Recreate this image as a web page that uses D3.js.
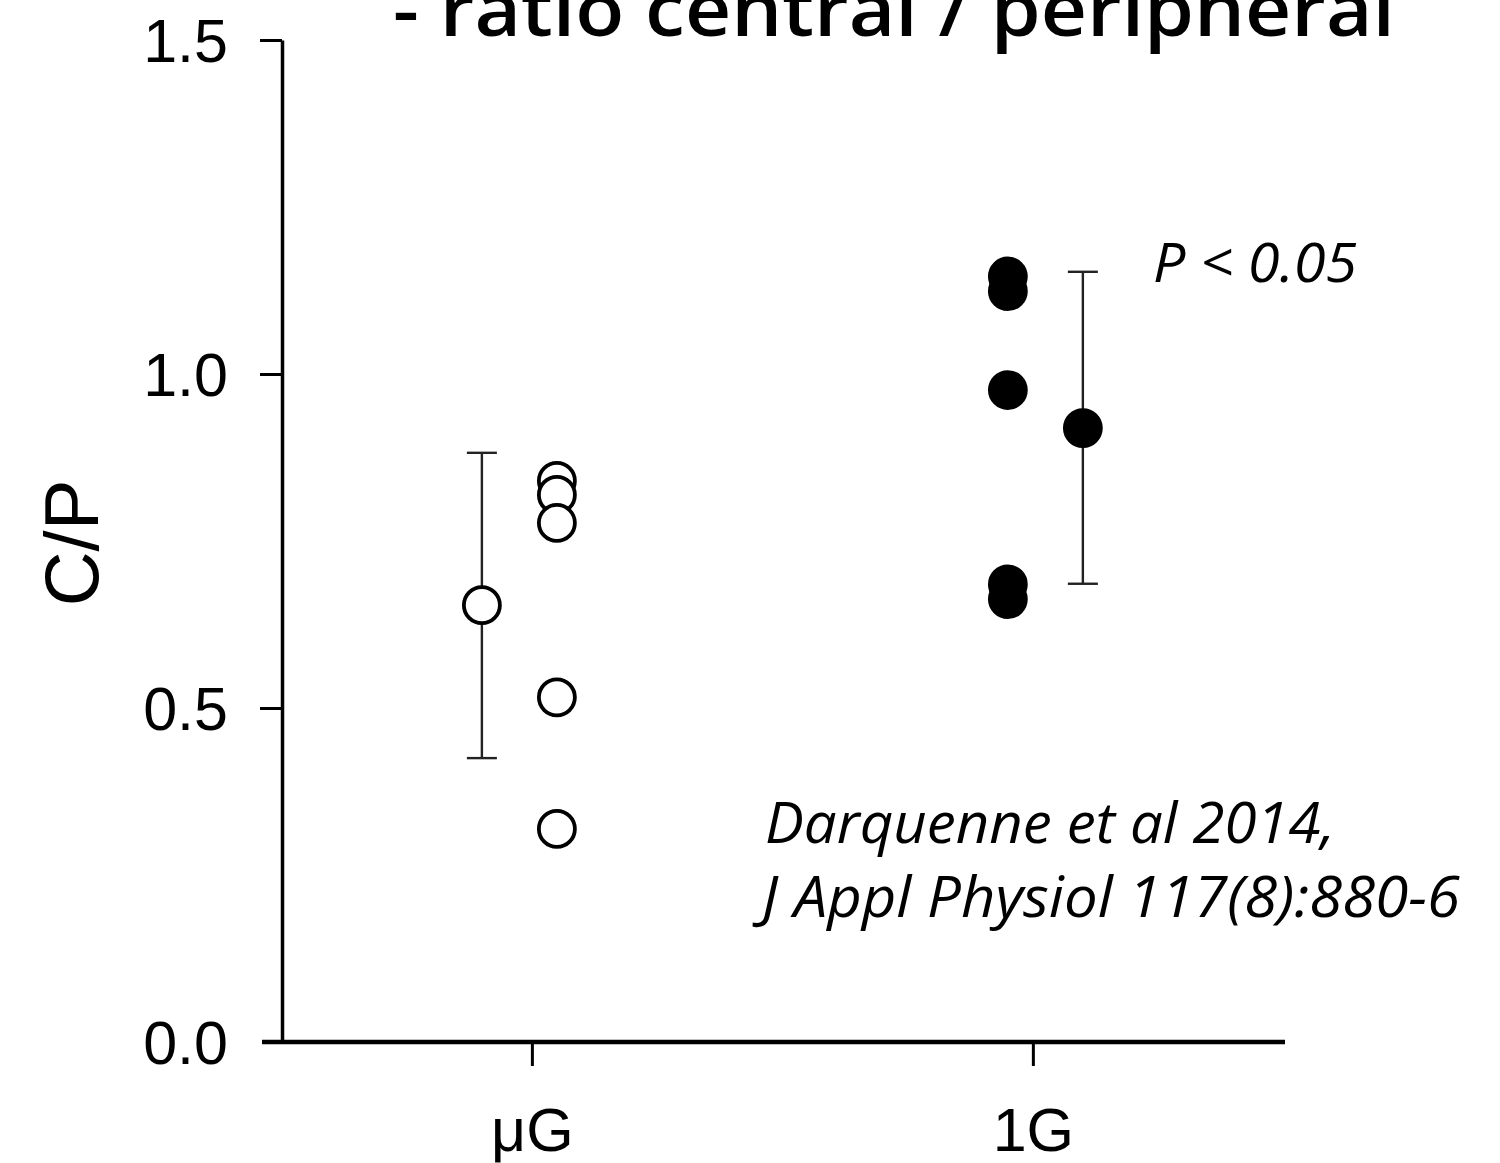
<!DOCTYPE html>
<html>
<head>
<meta charset="utf-8">
<script src="https://cdn.jsdelivr.net/npm/d3@7"></script>
<style>
  body { margin: 0; background: white; }
  svg { display: block; }
</style>
</head>
<body>
<div id="chart"></div>
<script>
// data
var groups = ["μG", "1G"];
var muG_values = [0.840, 0.819, 0.777, 0.516, 0.319];
var oneG_values = [1.146, 1.124, 0.976, 0.685, 0.663];
var group_means = [0.654, 0.919];
var err_low = [0.425, 0.686];
var err_high = [0.882, 1.153];
var y_ticks = [0.0, 0.5, 1.0, 1.5];

var width = 1500, height = 1163;

var svg = d3.select("#chart").append("svg")
    .attr("width", width)
    .attr("height", height);

// scales
var x = d3.scalePoint().domain(groups).range([262, 1285]).padding(0.521).align(0.517);
var y = d3.scaleLinear().domain([0, 1.5]).range([1042, 40]);

// title (cut off at the top in the original)
svg.append("text")
    .attr("x", 393)
    .attr("y", 36)
    .attr("textLength", 1002)
    .attr("lengthAdjust", "spacingAndGlyphs")
    .style("font-family", "Open Sans")
    .style("font-weight", 600)
    .style("font-size", "74px")
    .style("fill", "black")
    .text("- ratio central / peripheral");

// y axis
var yAxis = svg.append("g")
    .attr("class", "axis--y")
    .attr("transform", "translate(282,0)")
    .call(d3.axisLeft(y)
        .tickValues(y_ticks)
        .tickFormat(d3.format(".1f"))
        .tickSize(22)
        .tickSizeOuter(0)
        .tickPadding(32));

yAxis.select(".domain").style("stroke", "black").style("stroke-width", 3.5);
yAxis.selectAll(".tick line").style("stroke", "black").style("stroke-width", 3);
yAxis.selectAll(".tick").filter(function(d) { return d === 0; }).select("line").remove();
yAxis.selectAll("text")
    .style("font-family", "Liberation Sans, Arial")
    .style("font-size", "61px")
    .style("fill", "black")
    .attr("dy", "0.36em");

// x axis
var xAxis = svg.append("g")
    .attr("class", "axis--x")
    .attr("transform", "translate(0," + y(0) + ")")
    .call(d3.axisBottom(x)
        .tickSize(24)
        .tickSizeOuter(0)
        .tickPadding(42));

xAxis.select(".domain").style("stroke", "black").style("stroke-width", 4.5)
    .attr("d", "M" + x.range()[0] + ",0H" + x.range()[1]);
xAxis.selectAll(".tick line").style("stroke", "black").style("stroke-width", 3);
xAxis.selectAll("text")
    .style("font-family", "Liberation Sans, Arial")
    .style("font-size", "61px")
    .style("fill", "black");

// y label
svg.append("text")
    .attr("transform", "translate(98,543) rotate(-90)")
    .style("text-anchor", "middle")
    .style("font-family", "Liberation Sans, Arial")
    .style("font-size", "76px")
    .style("fill", "black")
    .text("C/P");

// groups: individual points plus mean +/- error
var all_values = [muG_values, oneG_values];
var fills = ["white", "black"];

groups.forEach(function(g, i) {
    var side = i === 0 ? -1 : 1;   // mean sits on the outer side
    var cx_mean = x(g) + side * 50;
    var cx_pts = x(g) - side * 25;

    // error bar
    var eb = svg.append("g").attr("class", "errorbar");
    eb.append("line")
        .attr("x1", cx_mean).attr("x2", cx_mean)
        .attr("y1", y(err_low[i])).attr("y2", y(err_high[i]));
    eb.append("line")
        .attr("x1", cx_mean - 15).attr("x2", cx_mean + 15)
        .attr("y1", y(err_low[i])).attr("y2", y(err_low[i]));
    eb.append("line")
        .attr("x1", cx_mean - 15).attr("x2", cx_mean + 15)
        .attr("y1", y(err_high[i])).attr("y2", y(err_high[i]));
    eb.selectAll("line").style("stroke", "#222").style("stroke-width", 2.4);

    // mean
    svg.append("circle")
        .attr("cx", cx_mean)
        .attr("cy", y(group_means[i]))
        .attr("r", 18)
        .style("fill", fills[i])
        .style("stroke", "black")
        .style("stroke-width", 3.8);

    // points
    svg.selectAll(".dot" + i)
        .data(all_values[i])
      .enter()
        .append("circle")
        .attr("class", "dot" + i)
        .attr("cx", cx_pts)
        .attr("cy", function(d) { return y(d); })
        .attr("r", 18)
        .style("fill", fills[i])
        .style("stroke", "black")
        .style("stroke-width", 3.8);
});

// annotations
svg.append("text")
    .attr("x", 1153)
    .attr("y", 282)
    .attr("textLength", 204)
    .attr("lengthAdjust", "spacingAndGlyphs")
    .style("font-family", "Open Sans")
    .style("font-style", "italic")
    .style("font-weight", 500)
    .style("font-size", "54px")
    .style("fill", "black")
    .text("P < 0.05");

svg.append("text")
    .attr("x", 765)
    .attr("y", 843)
    .attr("textLength", 570)
    .attr("lengthAdjust", "spacingAndGlyphs")
    .style("font-family", "Open Sans")
    .style("font-style", "italic")
    .style("font-weight", 500)
    .style("font-size", "56px")
    .style("fill", "black")
    .text("Darquenne et al 2014,");

svg.append("text")
    .attr("x", 762)
    .attr("y", 917)
    .attr("textLength", 698)
    .attr("lengthAdjust", "spacingAndGlyphs")
    .style("font-family", "Open Sans")
    .style("font-style", "italic")
    .style("font-weight", 500)
    .style("font-size", "56px")
    .style("fill", "black")
    .text("J Appl Physiol 117(8):880-6");
</script>
</body>
</html>
